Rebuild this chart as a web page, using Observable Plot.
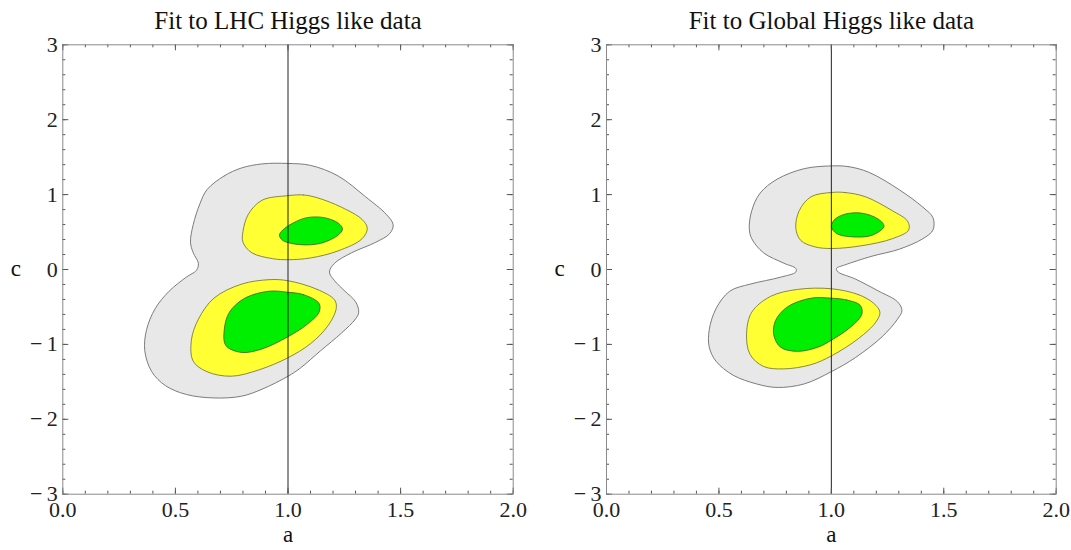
<!DOCTYPE html>
<html>
<head>
<meta charset="utf-8">
<script src="https://cdn.jsdelivr.net/npm/d3@7"></script>
<script src="https://cdn.jsdelivr.net/npm/@observablehq/plot@0.6"></script>
<style>
  html, body { margin: 0; padding: 0; background: #fff; overflow: hidden; }
  #wrap { position: relative; width: 1071px; height: 550px; }
  #left { position: absolute; left: 0; top: 0; }
  #right { position: absolute; left: 540px; top: 0; }
</style>
</head>
<body>
<div id="wrap"><div id="left"></div><div id="right"></div></div>
<script>
// ---- Data: contour outlines as [a, c] points ----
const titles = ["Fit to LHC Higgs like data", "Fit to Global Higgs like data"];

const lhcGray = [[0.64,1.065],[0.717,1.25],[0.793,1.355],[0.885,1.41],[1.0,1.416],[1.1,1.39],[1.222,1.25],[1.344,0.972],[1.436,0.738],[1.467,0.598],[1.452,0.481],[1.39,0.364],[1.283,0.224],[1.207,0.084],[1.184,-0.033],[1.207,-0.15],[1.253,-0.29],[1.30,-0.43],[1.314,-0.57],[1.30,-0.66],[1.237,-0.85],[1.145,-1.084],[1.054,-1.318],[1.0,-1.425],[0.885,-1.598],[0.793,-1.692],[0.671,-1.715],[0.548,-1.668],[0.456,-1.551],[0.395,-1.364],[0.364,-1.084],[0.372,-0.804],[0.41,-0.523],[0.472,-0.29],[0.548,-0.103],[0.594,-0.009],[0.602,0.084],[0.579,0.224],[0.567,0.364],[0.579,0.598],[0.609,0.879]];
const lhcYellowUp = [[1.0,0.986],[1.069,0.995],[1.13,0.958],[1.237,0.832],[1.329,0.668],[1.352,0.551],[1.329,0.411],[1.222,0.248],[1.1,0.154],[1.0,0.131],[0.931,0.145],[0.839,0.224],[0.80,0.364],[0.80,0.505],[0.824,0.738],[0.885,0.925]];
const lhcGreenUp = [[0.962,0.458],[0.977,0.528],[1.023,0.621],[1.084,0.692],[1.161,0.692],[1.222,0.621],[1.242,0.542],[1.222,0.458],[1.145,0.35],[1.054,0.332],[0.977,0.388]];
const lhcYellowLow = [[1.0,-0.15],[1.13,-0.266],[1.207,-0.407],[1.214,-0.523],[1.176,-0.757],[1.1,-0.99],[1.0,-1.178],[0.87,-1.341],[0.747,-1.425],[0.64,-1.364],[0.579,-1.224],[0.571,-0.944],[0.602,-0.664],[0.671,-0.383],[0.793,-0.196],[0.916,-0.136]];
const lhcGreenLow = [[1.0,-0.304],[1.069,-0.336],[1.138,-0.453],[1.138,-0.57],[1.084,-0.734],[1.0,-0.897],[0.885,-1.06],[0.793,-1.107],[0.724,-1.014],[0.717,-0.804],[0.74,-0.57],[0.808,-0.383],[0.916,-0.29]];

const globalGray = [[1.0,1.383],[1.075,1.374],[1.166,1.299],[1.302,1.065],[1.407,0.832],[1.452,0.692],[1.452,0.528],[1.407,0.411],[1.302,0.271],[1.181,0.178],[1.06,0.061],[1.023,0.014],[1.03,-0.033],[1.106,-0.126],[1.211,-0.29],[1.294,-0.43],[1.314,-0.547],[1.294,-0.664],[1.226,-0.897],[1.106,-1.178],[1.0,-1.364],[0.879,-1.528],[0.759,-1.575],[0.668,-1.528],[0.563,-1.411],[0.487,-1.224],[0.457,-1.037],[0.457,-0.804],[0.487,-0.523],[0.548,-0.29],[0.638,-0.196],[0.774,-0.103],[0.842,-0.033],[0.842,0.014],[0.789,0.084],[0.698,0.224],[0.646,0.411],[0.635,0.551],[0.646,0.785],[0.683,1.019],[0.759,1.206],[0.879,1.346]];
const globalYellowUp = [[1.0,1.028],[1.06,1.028],[1.151,0.972],[1.271,0.785],[1.339,0.645],[1.344,0.528],[1.271,0.411],[1.136,0.318],[1.0,0.28],[0.925,0.304],[0.864,0.388],[0.842,0.551],[0.857,0.785],[0.91,0.972]];
const globalGreenUp = [[1.0,0.575],[1.015,0.668],[1.06,0.738],[1.136,0.752],[1.211,0.668],[1.234,0.575],[1.181,0.458],[1.098,0.435],[1.023,0.481]];
const globalYellowLow = [[1.0,-0.257],[1.121,-0.336],[1.189,-0.453],[1.216,-0.57],[1.196,-0.71],[1.121,-0.921],[1.0,-1.154],[0.909,-1.271],[0.789,-1.327],[0.698,-1.294],[0.638,-1.131],[0.623,-0.85],[0.646,-0.57],[0.729,-0.36],[0.849,-0.266]];
const globalGreenLow = [[1.0,-0.383],[1.068,-0.407],[1.128,-0.477],[1.136,-0.593],[1.09,-0.757],[1.0,-0.944],[0.94,-1.037],[0.849,-1.093],[0.774,-1.037],[0.744,-0.874],[0.751,-0.687],[0.804,-0.5],[0.909,-0.383]];

const xMajor = [0, 0.5, 1, 1.5, 2];
const yMajor = [-3, -2, -1, 0, 1, 2, 3];
const xMinor = d3.range(0, 2.0001, 0.1);
const yMinor = d3.range(-3, 3.0001, 0.2);
const refLine = [1];

const panels = [
  {el: "#left", title: titles[0], gray: lhcGray, yu: lhcYellowUp, gu: lhcGreenUp, yl: lhcYellowLow, gl: lhcGreenLow,
   width: 540, ml: 62.3, mr: 27.3},
  {el: "#right", title: titles[1], gray: globalGray, yu: globalYellowUp, gu: globalGreenUp, yl: globalYellowLow, gl: globalGreenLow,
   width: 531, ml: 66, mr: 15.3}
];

const H = 550, MT = 44.3, MB = 56.3;
const fmtY = d => d < 0 ? "\u2212\u2009" + (-d) : String(d);

for (const p of panels) {
  const innerW = p.width - p.ml - p.mr;
  const innerH = H - MT - MB;
  const contour = (data, fill, stroke, sw) => Plot.line(data, {
    x: d => d[0], y: d => d[1], curve: "catmull-rom-closed",
    fill, stroke, strokeWidth: sw, strokeLinejoin: "round"
  });
  const chart = Plot.plot({
    width: p.width, height: H,
    marginTop: MT, marginBottom: MB, marginLeft: p.ml, marginRight: p.mr,
    style: {fontFamily: "'Liberation Serif', 'DejaVu Serif', serif", fontSize: "22px", background: "#fff"},
    x: {domain: [0, 2]},
    y: {domain: [-3, 3]},
    marks: [
      contour(p.gray, "#e8e8e8", "#7c7c7c", 1),
      contour(p.yu, "#ffff33", "#6b6b3a", 0.8),
      contour(p.yl, "#ffff33", "#6b6b3a", 0.8),
      contour(p.gu, "#00ee00", "#3d5a2a", 0.8),
      contour(p.gl, "#00ee00", "#3d5a2a", 0.8),
      Plot.ruleX(refLine, {stroke: "#222", strokeWidth: 1}),
      // inward frame ticks, all four sides
      Plot.ruleX(xMinor, {stroke: "#555", insetTop: innerH - 3}),
      Plot.ruleX(xMinor, {stroke: "#555", insetBottom: innerH - 3}),
      Plot.ruleX(xMajor, {stroke: "#555", insetTop: innerH - 6}),
      Plot.ruleX(xMajor, {stroke: "#555", insetBottom: innerH - 6}),
      Plot.ruleY(yMinor, {stroke: "#555", insetRight: innerW - 3}),
      Plot.ruleY(yMinor, {stroke: "#555", insetLeft: innerW - 3}),
      Plot.ruleY(yMajor, {stroke: "#555", insetRight: innerW - 6}),
      Plot.ruleY(yMajor, {stroke: "#555", insetLeft: innerW - 6}),
      Plot.frame({stroke: "#8a8a8a", strokeWidth: 1}),
      Plot.axisX(xMajor, {tickSize: 0, tickPadding: 7, tickFormat: d3.format(".1f"), label: null, fill: "#222", fontSize: 22}),
      Plot.axisY(yMajor, {tickSize: 0, tickPadding: 5, tickFormat: fmtY, label: null, fill: "#222", fontSize: 22}),
      Plot.text([p.title], {frameAnchor: "top", lineAnchor: "middle", dy: -24, fontSize: 25, fill: "#111"}),
      Plot.text(["a"], {frameAnchor: "bottom", lineAnchor: "middle", dy: 40, fontSize: 23, fill: "#111"}),
      Plot.text(["c"], {frameAnchor: "left", textAnchor: "middle", lineAnchor: "middle", dx: -47, dy: -1, fontSize: 23, fill: "#111"})
    ]
  });
  document.querySelector(p.el).append(chart);
}
</script>
</body>
</html>
